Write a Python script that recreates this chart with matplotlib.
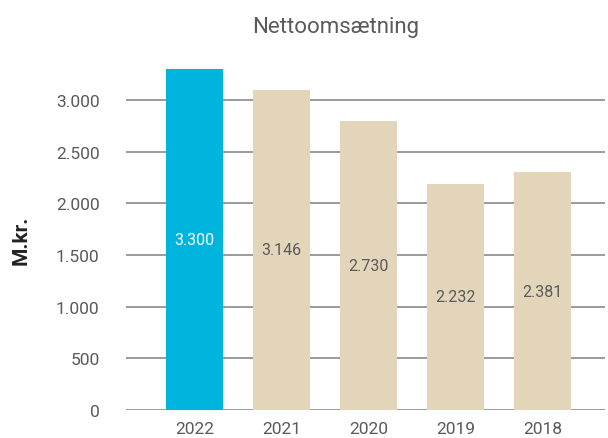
import matplotlib
matplotlib.use("Agg")
import matplotlib.pyplot as plt

# data
years = ['2022', '2021', '2020', '2019', '2018']
heights = [3300, 3100, 2800, 2190, 2300]          # bar heights as drawn
labels = ['3.300', '3.146', '2.730', '2.232', '2.381']  # printed values
colors = ['#00B5DD', '#E3D5BA', '#E3D5BA', '#E3D5BA', '#E3D5BA']
label_colors = ['white', '#5a5a5a', '#5a5a5a', '#5a5a5a', '#5a5a5a']
yticks = [0, 500, 1000, 1500, 2000, 2500, 3000]
ytick_labels = ['0', '500', '1.000', '1.500', '2.000', '2.500', '3.000']

plt.rcParams['font.family'] = ['Roboto', 'DejaVu Sans']

fig = plt.figure(figsize=(6.08, 4.39), dpi=100)
ax = fig.add_axes([126 / 608, 28 / 439, 479 / 608, 341 / 439])

x = range(len(years))
ax.bar(x, heights, width=0.655, color=colors, zorder=3)
for i in x:
    ax.text(i, heights[i] / 2, labels[i], ha='center', va='center',
            color=label_colors[i], fontsize=11.5, zorder=4)

ax.set_xlim(-0.787, 4.72)
ax.set_ylim(0, 3300)
ax.set_yticks(yticks)
ax.set_yticklabels(ytick_labels)
ax.set_xticks(list(x))
ax.set_xticklabels(years)
ax.tick_params(axis='y', length=0, pad=19, labelsize=12.5, labelcolor='#5a5a5a')
ax.tick_params(axis='x', length=0, pad=8, labelsize=12.5, labelcolor='#5a5a5a')
ax.grid(axis='y', color='#8a8a8a', linewidth=1.2, zorder=0)
for s in ax.spines.values():
    s.set_visible(False)

ax.set_ylabel('M.kr.', fontsize=15, fontweight='bold', color='#222222', labelpad=18)
fig.text(336 / 608, 1 - 28 / 439, 'Nettoomsætning', ha='center', va='center',
         fontsize=16, color='#5a5a5a')

fig.savefig('out.png', dpi=100)
